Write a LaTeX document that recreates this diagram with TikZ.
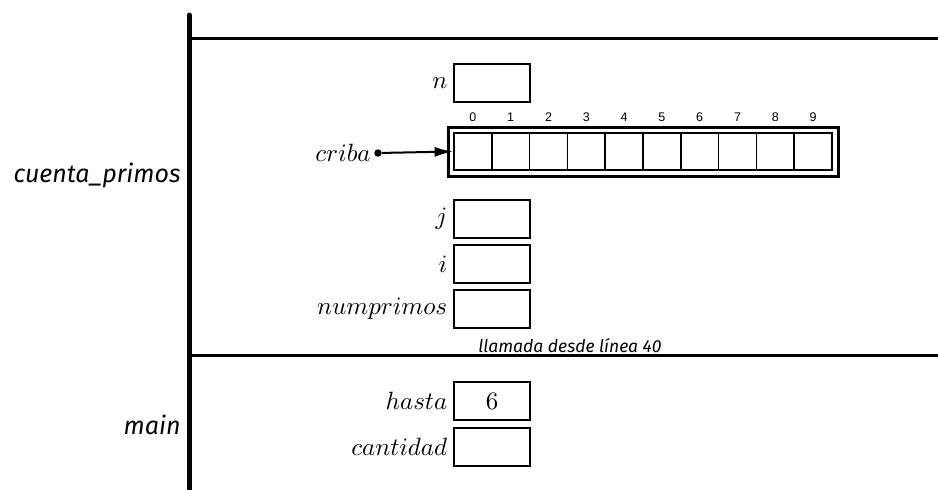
\documentclass[tikz,border=0pt]{standalone}
\usepackage{fontspec}
\newfontfamily\marcofont{Fira Sans}
\newfontfamily\indicefont{Liberation Sans}
\usetikzlibrary{arrows.meta,positioning}
\tikzset{
  celda/.style  ={draw=black,line width=1pt,minimum width=30.4pt,
                  minimum height=15.2pt,inner sep=0pt,font=\normalsize},
  casilla/.style={draw=black,line width=0.7pt,minimum width=15.12pt,
                  minimum height=14.8pt,inner sep=0pt},
  arreglo/.style={draw=black,line width=1.2pt,minimum width=156pt,
                  minimum height=19.6pt,inner sep=0pt},
  nomvar/.style ={inner sep=0pt},
  marco/.style  ={font=\marcofont\itshape,anchor=east,inner sep=0pt},
  idx/.style    ={font=\indicefont\tiny,inner sep=0pt},
}

\begin{document}
\begin{tikzpicture}[
  x=0.4pt, y=-0.4pt,
  >={Latex[length=2.6mm,width=1.4mm]},
  pila/.style   ={line width=2pt,line cap=round},
  sep/.style    ={line width=1.2pt},
  punto/.style  ={circle,fill=black,inner sep=0pt,minimum size=3pt},
]
\useasboundingbox (0,0) rectangle (938,489);
%% stack frames
\draw[pila] (189,15) -- (189,495);
\draw[sep] (189,38) -- (938,38);
\draw[sep] (189,355) -- (938,355);
\node[marco] (fcuenta) at (181,175) {cuenta\_primos};
\node[marco] (fmain)   at (181,425) {main};
\node[font=\marcofont\itshape\scriptsize,inner sep=0pt] (llamada)
      at (570,346) {llamada desde línea 40};
%% cuenta_primos variables
\node[celda] (n)    at (492,83)  {};
\node[nomvar,left=2pt of n] {$n$};
\node[arreglo] (criba) at (643,151.5) {};
\foreach \k in {0,...,9}{%
  \node[casilla] (c\k) at (472.9+37.8*\k,151.5) {};
  \node[idx] at (472.9+37.8*\k,117) {\k};
}
\node[punto] (pcriba) at (378,153) {};
\node[nomvar,left=1pt of pcriba] {$criba$};
\draw[->,line width=0.8pt] (pcriba) -- (c0.west);
\node[celda] (j)    at (492,219) {};
\node[nomvar,left=2pt of j] {$j$};
\node[celda] (i)    at (492,264) {};
\node[nomvar,left=2pt of i] {$i$};
\node[celda] (nump) at (492,309) {};
\node[nomvar,left=2pt of nump] {$numprimos$};
%% main variables
\node[celda] (hasta) at (492,401) {6};
\node[nomvar,left=2pt of hasta] {$hasta$};
\node[celda] (cant)  at (492,447) {};
\node[nomvar,left=2pt of cant] {$cantidad$};
\end{tikzpicture}
\end{document}
